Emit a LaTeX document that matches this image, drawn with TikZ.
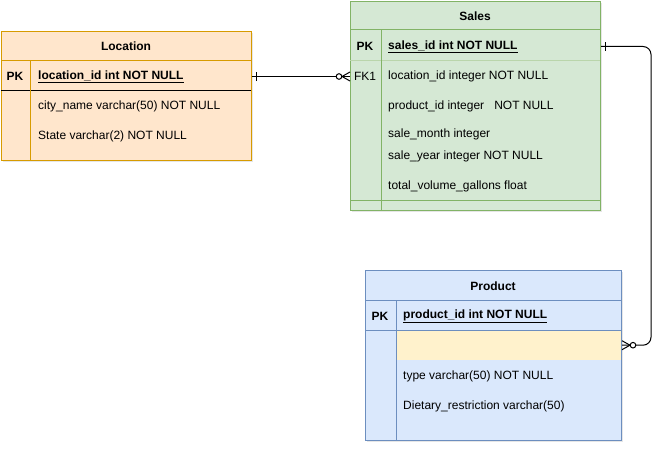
\documentclass[tikz,border=0pt]{standalone}
\usepackage{fontspec}
\setmainfont{Liberation Sans}
\usetikzlibrary{decorations.markings}
\usetikzlibrary{shadows}

\definecolor{locfill}{HTML}{FFE6CC}
\definecolor{locline}{HTML}{D79B00}
\definecolor{salesfill}{HTML}{D5E8D4}
\definecolor{salesline}{HTML}{82B366}
\definecolor{prodfill}{HTML}{DAE8FC}
\definecolor{prodline}{HTML}{6C8EBF}
\definecolor{rowfill}{HTML}{FFF2CC}

\tikzset{
  tablebox/.style={line width=1pt, anchor=north west, inner sep=0pt,
    drop shadow={opacity=0.2, shadow xshift=1.5pt, shadow yshift=-1.5pt}},
  title/.style={inner sep=0pt, yshift=-1.5pt, font=\bfseries\fontsize{12}{14}\selectfont},
  keylabel/.style={inner sep=0pt, yshift=-1.5pt, font=\fontsize{12}{14}\selectfont},
  field/.style={anchor=west, inner sep=0pt, yshift=-1.5pt, font=\fontsize{12}{14}\selectfont},
  keyfield/.style={field, font=\bfseries\fontsize{12}{14}\selectfont},
  onemark/.style={postaction={decorate, decoration={markings,
    mark=at position 0 with {\draw[line width=1pt] (4pt,-4.5pt) -- (4pt,4.5pt);}}}},
  zeromany/.style={postaction={decorate, decoration={markings,
    mark=at position 1 with {\draw[line width=1pt] (-8pt,0pt) -- (0pt,4.5pt) (-8pt,0pt) -- (0pt,-4.5pt);
      \draw[line width=1pt, fill=white] (-11pt,0pt) circle (2.8pt);}}}},
  relation/.style={line width=1pt, onemark, zeromany}
}

\begin{document}
\begin{tikzpicture}[x=1pt, y=-1pt]
\useasboundingbox (0,0) rectangle (671,452);

% Location
\node[tablebox, draw=locline, fill=locfill, minimum width=250pt, minimum height=129pt] (loc) at (1,31) {};
\draw[locline, line width=1pt] (1,60) -- (251,60);
\draw[line width=1pt] (1,90) -- (251,90);
\draw[locline, line width=1pt] (30,60) -- (30,160);
\node[title] (loctitle) at (126,45) {Location};
\node[keylabel, font=\bfseries\fontsize{12}{14}\selectfont] (lockey) at (15,75) {PK};
\node[keyfield] (locid) at (38,75) {\underline{location\_id int NOT NULL}};
\node[field] (loccity) at (38,105) {city\_name varchar(50) NOT NULL};
\node[field] (locstate) at (38,135) {State varchar(2) NOT NULL};

% Sales
\node[tablebox, draw=salesline, fill=salesfill, minimum width=250pt, minimum height=209pt] (sales) at (350,1) {};
\draw[salesline, line width=1pt] (350,30) -- (600,30);
\draw[salesline!55, line width=1pt] (350,60) -- (600,60);
\draw[salesline, line width=1pt] (350,200) -- (600,200);
\draw[salesline, line width=1pt] (381,30) -- (381,210);
\node[title] (salestitle) at (475,15) {Sales};
\node[keylabel, font=\bfseries\fontsize{12}{14}\selectfont] (saleskey) at (365,45) {PK};
\node[keyfield] (salesid) at (388,45) {\underline{sales\_id int NOT NULL}};
\node[keylabel] (salesfkkey) at (365,75) {FK1};
\node[field] (salesfk) at (388,75) {location\_id integer NOT NULL};
\node[field] (salesprod) at (388,105) {product\_id integer\ \ \ NOT NULL};
\node[field] (salesmonth) at (388,133) {sale\_month integer};
\node[field] (salesyear) at (388,155) {sale\_year integer NOT NULL};
\node[field] (salesvol) at (388,185) {total\_volume\_gallons float};

% Product
\node[tablebox, draw=prodline, fill=prodfill, minimum width=256pt, minimum height=170pt] (prod) at (365,270) {};
\node[fill=rowfill, anchor=north west, inner sep=0pt, minimum width=224.5pt, minimum height=30pt] (prodrow) at (396,330) {};
\draw[prodline, line width=1pt] (365,300) -- (621,300);
\draw[prodline, line width=1pt] (365,330) -- (621,330);
\draw[prodline, line width=1pt] (396,300) -- (396,440);
\node[title] (prodtitle) at (493,285) {Product};
\node[keylabel, font=\bfseries\fontsize{12}{14}\selectfont] (prodkey) at (380,315) {PK};
\node[keyfield] (prodid) at (403,315) {\underline{product\_id int NOT NULL}};
\node[field] (prodtype) at (403,375) {type varchar(50) NOT NULL};
\node[field] (proddiet) at (403,405) {Dietary\_restriction varchar(50)};

% relations
\coordinate (bend) at (651,0);
\draw[relation] (loc.east |- locid) -- (sales.west |- salesfk);
\draw[relation, rounded corners=8pt] (sales.east |- salesid) -| (bend |- prodrow) -- (prod.east |- prodrow);
\end{tikzpicture}
\end{document}
